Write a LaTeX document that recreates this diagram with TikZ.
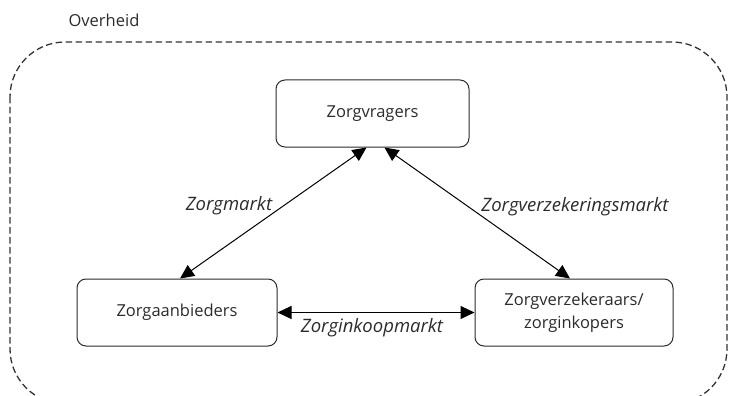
\documentclass[tikz,border=0pt]{standalone}
\usepackage{fontspec}
\setmainfont{Open Sans}
\usetikzlibrary{arrows.meta}
\definecolor{ink}{HTML}{2B2B2B}
\definecolor{rim}{HTML}{333333}
\newcommand{\labelsize}{\fontsize{16.5}{23}\selectfont}
\newcommand{\marketsize}{\fontsize{18.5}{22}\selectfont}
\begin{document}
\begin{tikzpicture}[x=1pt,y=-1pt,
  actor/.style={draw=ink,line width=1pt,rounded corners=9pt,minimum width=#1,minimum height=67pt,align=center,font=\labelsize,text=ink},
  market/.style={font=\marketsize\itshape,text=ink},
  link/.style={draw=black,line width=1pt,{Triangle[length=14pt,width=13pt]}-{Triangle[length=14pt,width=13pt]}}
]
\useasboundingbox (0,0) rectangle (729,396);
\clip (0,0) rectangle (729,396);
% government boundary
\draw[rim,line width=1.3pt,dash pattern=on 6.5pt off 3.5pt,rounded corners=55pt] (10,42) rectangle (727,404);
\node[font=\labelsize,text=ink] (ov) at (104,20) {Overheid};
% actors
\node[actor=193pt] (zv) at (372.5,113.5) {Zorgvragers};
\node[actor=200pt] (za) at (177,312.5) {Zorgaanbieders};
\node[actor=198pt] (zk) at (574,312.5) {Zorgverzekeraars/\\zorginkopers};
% markets
\draw[link] ([xshift=-6pt]zv.south) -- ([xshift=3pt]za.north);
\draw[link] ([xshift=12pt]zv.south) -- ([xshift=-4pt]zk.north);
\draw[link] (za.east) -- (zk.west);
\node[market] (m1) at (229,206) {Zorgmarkt};
\node[market] (m2) at (575,207) {Zorgverzekeringsmarkt};
\node[market] (m3) at (372,328) {Zorginkoopmarkt};
\end{tikzpicture}
\end{document}
